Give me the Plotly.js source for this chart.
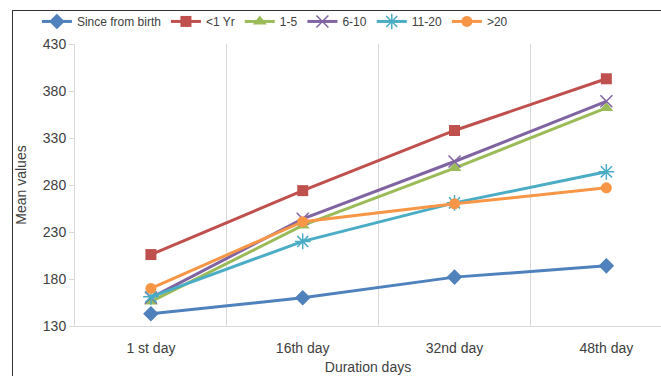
<!DOCTYPE html>
<html>
<head>
<meta charset="utf-8">
<script src="https://cdn.plot.ly/plotly-3.0.1.min.js"></script>
<style>
  html, body { margin: 0; padding: 0; background: #fff; overflow: hidden; }
  #wrap { position: relative; width: 661px; height: 376px; }
  #chart { width: 661px; height: 376px; }
  #frame { position: absolute; left: 12px; top: 10px; width: 700px; height: 400px;
           border-left: 1.5px solid #333; border-top: 1.5px solid #333; pointer-events: none; }
</style>
</head>
<body>
<div id="wrap">
  <div id="chart"></div>
  <div id="frame"></div>
</div>
<script>
const categories = ["1 st day", "16th day", "32nd day", "48th day"];
const seriesNames = ["Since from birth", "<1 Yr", "1-5", "6-10", "11-20", ">20"];
const sinceBirth = [143, 160, 182, 194];
const under1 = [206, 274, 338, 393];
const age1to5 = [156, 237, 298, 362];
const age6to10 = [160, 244, 305, 369];
const age11to20 = [161, 220, 261, 294];
const over20 = [170, 241, 260, 277];

const seriesValues = [sinceBirth, under1, age1to5, age6to10, age11to20, over20];
const colors = ["#4F81BD", "#C0504D", "#9BBB59", "#8064A2", "#4BACC6", "#F79646"];
const symbols = ["diamond", "square", "triangle-up", "x-thin-open", "asterisk-open", "circle"];
const sizes = [12, 11, 12, 12, 13, 11];

const traces = seriesNames.map((name, i) => ({
  type: "scatter",
  mode: "lines+markers",
  name: name,
  x: categories,
  y: seriesValues[i],
  line: { color: colors[i], width: 3 },
  marker: { symbol: symbols[i], size: sizes[i], color: colors[i],
            line: { color: colors[i], width: (i === 3 || i === 4) ? 1.5 : 0 } }
}));

const layout = {
  width: 661, height: 376,
  margin: { l: 75, r: 0, t: 44, b: 50 },
  paper_bgcolor: "#fff", plot_bgcolor: "#fff",
  font: { family: "Liberation Sans, Arial, sans-serif", size: 14, color: "#404040" },
  showlegend: true,
  legend: {
    orientation: "h", x: -0.065, xanchor: "left", y: 1.08, yanchor: "middle",
    font: { size: 12, color: "#404040" }, itemwidth: 30, traceorder: "normal"
  },
  xaxis: {
    type: "category", categoryarray: categories, range: [-0.5, 3.36],
    tickson: "boundaries", ticks: "", showgrid: true, gridcolor: "#d9d9d9", gridwidth: 1,
    showline: true, linecolor: "#d9d9d9", linewidth: 1, zeroline: false,
    ticklabelstandoff: 9,
    tickfont: { size: 14, color: "#404040" },
    title: { text: "Duration days", font: { size: 14, color: "#404040" }, standoff: 7 }
  },
  yaxis: {
    range: [130, 430], dtick: 50, tick0: 130, showgrid: false, zeroline: false,
    showline: true, linecolor: "#d9d9d9", linewidth: 1,
    ticks: "outside", ticklen: 5, tickcolor: "#d9d9d9",
    tickfont: { size: 14, color: "#404040" },
    title: { text: "Mean values", font: { size: 14, color: "#404040" }, standoff: 12 }
  }
};

Plotly.newPlot("chart", traces, layout, { displayModeBar: false, staticPlot: true });
</script>
</body>
</html>
